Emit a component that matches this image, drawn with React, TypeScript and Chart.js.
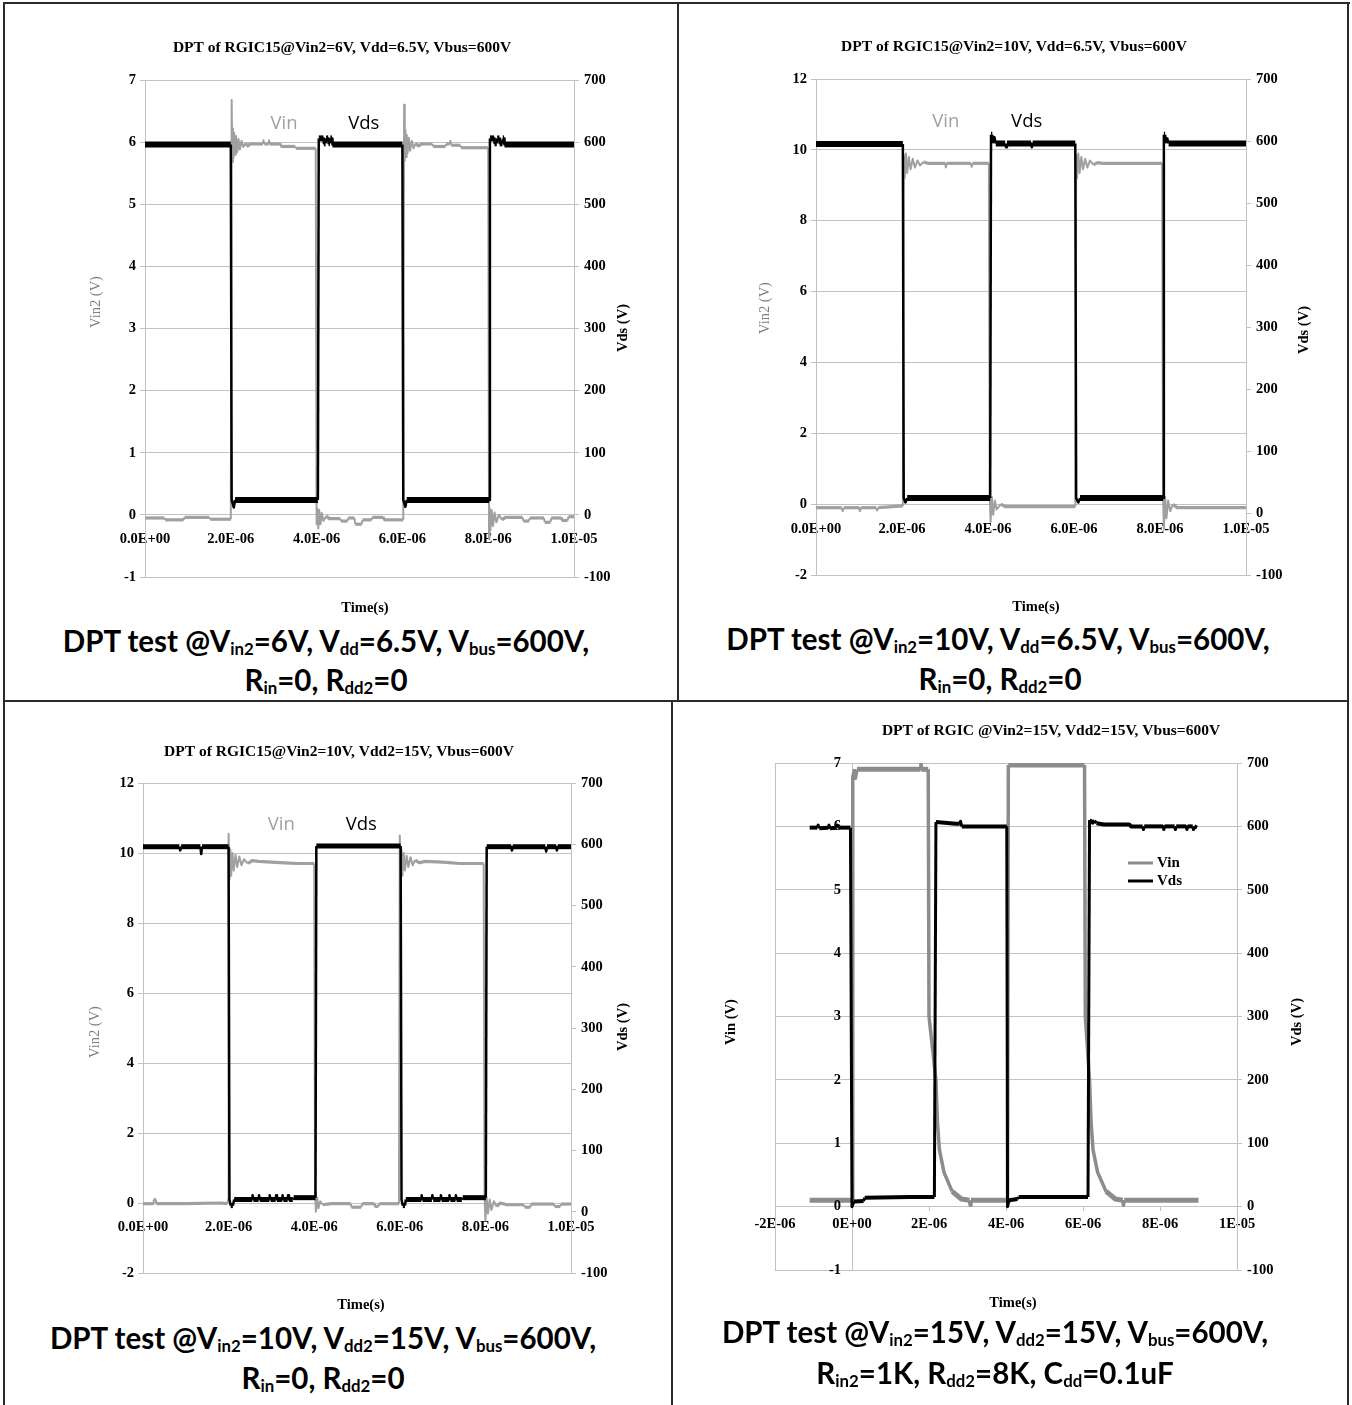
import React, { useEffect, useRef } from "react";
import { Chart, registerables } from "chart.js";

Chart.register(...registerables);

type Pt = [number, number];

// ---------------- data (time in microseconds, Vin in V, Vds in V) ----------------
const c1Vin: Pt[] = [
  [0, -0.05], [0.45, -0.05], [0.47, -0.08], [0.9, -0.08], [0.92, -0.04], [1.5, -0.04], [1.52, -0.07], [2.0, -0.07],
  [2.02, 6.68], [2.035, 5.68], [2.05, 6.22], [2.065, 5.75], [2.08, 6.15], [2.1, 5.8], [2.12, 6.1], [2.15, 5.84],
  [2.18, 6.05], [2.21, 5.88], [2.25, 6.02], [2.29, 5.92], [2.34, 5.98], [2.4, 5.94], [2.45, 5.97], [2.75, 5.97],
  [2.76, 6.03], [2.78, 5.97], [2.88, 5.97], [2.89, 6.03], [2.91, 5.97], [3.15, 5.97], [3.17, 5.93], [3.5, 5.93],
  [3.52, 5.9], [3.98, 5.9], [4.0, -0.15], [4.02, 0.1], [4.04, -0.22], [4.06, 0.08], [4.09, -0.15], [4.12, 0.03],
  [4.16, -0.1], [4.22, -0.02], [4.3, -0.06], [4.55, -0.06], [4.57, -0.1], [4.72, -0.1], [4.74, -0.05], [4.88, -0.05],
  [4.9, -0.15], [5.05, -0.15], [5.07, -0.08], [5.28, -0.08], [5.3, -0.04], [5.55, -0.04], [5.57, -0.08], [6.02, -0.08],
  [6.04, 6.6], [6.055, 5.7], [6.07, 6.2], [6.085, 5.76], [6.1, 6.12], [6.12, 5.82], [6.15, 6.07], [6.18, 5.86],
  [6.22, 6.02], [6.26, 5.9], [6.31, 5.98], [6.37, 5.94], [6.45, 5.97], [6.7, 5.97], [6.72, 5.93], [7.0, 5.93],
  [7.02, 5.97], [7.1, 5.97], [7.12, 6.02], [7.14, 5.95], [7.35, 5.95], [7.37, 5.91], [8.0, 5.91], [8.02, -0.38],
  [8.03, 0.12], [8.05, -0.25], [8.08, 0.08], [8.11, -0.18], [8.15, 0.04], [8.19, -0.12], [8.25, 0.0], [8.32, -0.08],
  [8.4, -0.04], [8.8, -0.04], [8.82, -0.1], [8.95, -0.1], [8.97, -0.05], [9.3, -0.05], [9.32, -0.12], [9.45, -0.12],
  [9.47, -0.05], [9.7, -0.05], [9.72, -0.09], [9.85, -0.09], [9.87, -0.03], [10, -0.03],
];
const c1Vds: Pt[] = [
  [0, 596], [2.0, 596], [2.02, 24], [2.07, 12], [2.1, 24], [4.03, 24], [4.05, 606], [4.16, 606], [4.17, 598],
  [4.21, 598], [4.22, 606], [4.27, 606], [4.28, 598], [4.31, 598], [4.32, 606], [4.36, 606], [4.37, 596], [6.0, 596],
  [6.02, 24], [6.07, 13], [6.1, 24], [8.02, 24], [8.04, 606], [8.14, 606], [8.15, 598], [8.2, 598], [8.21, 606],
  [8.26, 606], [8.27, 598], [8.33, 598], [8.34, 606], [8.37, 606], [8.38, 596], [10, 596],
];

const c2Vin: Pt[] = [
  [0, -0.1], [0.6, -0.1], [0.62, -0.2], [0.65, -0.1], [1.0, -0.1], [1.02, -0.2], [1.05, -0.1], [1.4, -0.1],
  [1.42, -0.18], [1.45, -0.1], [2.02, -0.05], [2.04, 9.85], [2.06, 9.2], [2.09, 9.9], [2.12, 9.35], [2.16, 9.8],
  [2.2, 9.45], [2.25, 9.75], [2.3, 9.5], [2.36, 9.7], [2.42, 9.56], [2.5, 9.66], [2.6, 9.62], [3.0, 9.62],
  [3.02, 9.5], [3.04, 9.62], [3.6, 9.62], [3.62, 9.52], [3.64, 9.62], [4.02, 9.62], [4.04, 0.3], [4.06, -0.5],
  [4.09, 0.2], [4.12, -0.3], [4.16, 0.1], [4.2, -0.15], [4.3, 0.0], [4.4, -0.07], [6.03, -0.07], [6.05, 9.85],
  [6.07, 9.2], [6.1, 9.9], [6.13, 9.35], [6.17, 9.8], [6.21, 9.45], [6.26, 9.75], [6.31, 9.5], [6.37, 9.7],
  [6.45, 9.58], [6.55, 9.64], [6.65, 9.62], [8.05, 9.62], [8.07, 0.3], [8.09, -0.7], [8.12, 0.2], [8.15, -0.4],
  [8.19, 0.1], [8.24, -0.2], [8.3, 0.0], [8.4, -0.1], [10, -0.1],
];
const c2Vds: Pt[] = [
  [0, 595], [2.02, 595], [2.04, 24], [2.08, 17], [2.12, 24], [4.05, 24], [4.07, 610], [4.1, 610], [4.12, 598],
  [4.15, 606], [4.18, 596], [4.4, 596], [4.42, 590], [4.44, 596], [5.0, 596], [5.02, 590], [5.04, 596], [6.03, 596],
  [6.05, 24], [6.1, 17], [6.14, 24], [8.07, 24], [8.09, 610], [8.12, 610], [8.14, 598], [8.17, 604], [8.2, 596],
  [10, 596],
];

const c3Vin: Pt[] = [
  [0, -0.02], [0.24, -0.02], [0.25, 0.1], [0.3, 0.1], [0.31, -0.02], [1.0, -0.02], [1.8, 0.0], [1.97, -0.02],
  [1.99, 0.1], [2.0, 10.55], [2.02, 9.25], [2.04, 10.1], [2.06, 9.35], [2.09, 10.0], [2.12, 9.5], [2.16, 9.95],
  [2.2, 9.6], [2.25, 9.9], [2.3, 9.65], [2.36, 9.82], [2.45, 9.7], [2.55, 9.78], [2.7, 9.76], [3.0, 9.74],
  [3.3, 9.72], [3.6, 9.7], [4.0, 9.7], [4.02, 0.3], [4.04, -0.25], [4.07, 0.15], [4.1, -0.15], [4.14, 0.05],
  [4.2, -0.05], [4.4, -0.02], [4.85, -0.02], [4.87, -0.12], [5.1, -0.12], [5.12, -0.02], [5.4, -0.02], [5.42, -0.1],
  [5.5, -0.1], [5.52, -0.02], [5.98, -0.02], [6.0, 10.5], [6.02, 9.2], [6.04, 10.1], [6.06, 9.35], [6.09, 10.0],
  [6.12, 9.5], [6.16, 9.92], [6.2, 9.6], [6.25, 9.88], [6.3, 9.65], [6.36, 9.8], [6.45, 9.72], [6.6, 9.76],
  [7.0, 9.74], [7.4, 9.7], [7.96, 9.7], [7.98, 0.2], [8.0, -0.5], [8.03, 0.15], [8.06, -0.3], [8.1, 0.1],
  [8.14, -0.2], [8.2, 0.05], [8.26, -0.1], [8.35, 0.0], [8.5, -0.05], [8.9, -0.05], [8.92, -0.12], [9.05, -0.12],
  [9.07, -0.03], [9.6, -0.03], [9.62, -0.1], [9.75, -0.1], [9.77, -0.03], [10, -0.03],
];
const c3Vds: Pt[] = [
  [0, 596], [0.85, 596], [0.87, 590], [0.89, 596], [1.34, 596], [1.36, 584], [1.38, 596], [2.0, 596], [2.02, 20],
  [2.05, 10], [2.1, 10], [2.13, 20], [2.55, 20], [2.56, 27], [2.58, 20], [2.7, 20], [2.71, 27], [2.73, 20],
  [2.95, 20], [2.96, 27], [2.98, 20], [3.1, 20], [3.11, 27], [3.13, 20], [3.25, 20], [3.26, 27], [3.28, 20],
  [3.38, 20], [3.39, 27], [3.41, 20], [3.5, 20], [3.52, 23], [4.03, 23], [4.05, 597], [6.02, 597], [6.04, 20],
  [6.07, 10], [6.12, 10], [6.14, 20], [6.5, 20], [6.51, 27], [6.53, 20], [6.75, 20], [6.76, 27], [6.78, 20],
  [6.95, 20], [6.96, 27], [6.98, 20], [7.15, 20], [7.16, 27], [7.18, 20], [7.3, 20], [7.31, 27], [7.33, 20],
  [7.45, 20], [7.47, 23], [8.01, 23], [8.03, 596], [8.6, 596], [8.62, 590], [8.64, 596], [9.4, 596], [9.42, 588],
  [9.44, 596], [9.65, 596], [9.67, 590], [9.69, 596], [10, 596],
];

const c4Vin: Pt[] = [
  [-1.1, 0.1], [0.0, 0.1], [0.02, 6.78], [0.06, 6.88], [0.09, 6.76], [0.13, 6.9], [1.78, 6.9], [1.79, 7.0],
  [1.81, 6.9], [1.98, 6.9], [2.0, 3.0], [2.18, 2.0], [2.22, 1.33], [2.27, 0.9], [2.39, 0.54], [2.6, 0.24],
  [2.84, 0.12], [3.05, 0.1], [3.07, 0.02], [3.09, 0.1], [4.04, 0.1], [4.06, 6.97], [6.04, 6.97], [6.06, 3.0],
  [6.17, 2.0], [6.21, 1.33], [6.26, 0.9], [6.38, 0.54], [6.6, 0.24], [6.84, 0.12], [7.03, 0.1], [7.05, 0.02],
  [7.07, 0.1], [9.0, 0.1],
];
const c4Vds: Pt[] = [
  [-1.1, 598], [-0.9, 598], [-0.88, 602], [-0.85, 597], [-0.62, 598], [-0.6, 602], [-0.57, 597], [-0.4, 598],
  [-0.38, 602], [-0.35, 598], [-0.04, 598], [0.0, 0], [0.05, 8], [0.3, 9], [0.33, 14], [1.5, 15], [2.14, 15],
  [2.18, 607], [2.7, 604], [2.8, 604], [2.82, 608], [2.85, 600], [4.02, 600], [4.04, 0], [4.08, 10], [4.3, 12],
  [4.33, 15], [6.13, 15], [6.17, 610], [6.25, 606], [6.3, 609], [6.35, 605], [6.55, 603], [7.2, 603], [7.25, 600],
  [7.55, 600], [7.57, 595], [7.59, 600], [8.08, 600], [8.1, 595], [8.12, 600], [8.38, 600], [8.4, 595], [8.42, 600],
  [8.68, 600], [8.7, 595], [8.72, 600], [8.85, 600], [8.87, 595], [8.89, 600], [8.96, 598],
];

// ---------------- ticks ----------------
const xTicksA = [0, 2, 4, 6, 8, 10];
const xLabelsA = ["0.0E+00", "2.0E-06", "4.0E-06", "6.0E-06", "8.0E-06", "1.0E-05"];
const xTicksB = [-2, 0, 2, 4, 6, 8, 10];
const xLabelsB = ["-2E-06", "0E+00", "2E-06", "4E-06", "6E-06", "8E-06", "1E-05"];
const leftTicks7 = [-1, 0, 1, 2, 3, 4, 5, 6, 7];
const leftTicks12 = [-2, 0, 2, 4, 6, 8, 10, 12];
const rightTicks = [-100, 0, 100, 200, 300, 400, 500, 600, 700];

const SERIF = '"Liberation Serif", "Times New Roman", serif';
const GRID = "#c2c2c2";
const TICK_PX = 14.5;

interface Spec {
  left: number; top: number; width: number; height: number;
  pad: { left: number; right: number; top: number; bottom: number };
  xMin: number; xMax: number; xTicks: number[]; xLabels: string[];
  yMin: number; yMax: number; yTicks: number[];
  vin: Pt[]; vds: Pt[];
  vinColor: string; vinW: [number, number]; vdsW: [number, number];
  title: string; titleAt: [number, number];
  leftTitle: string; leftAt: [number, number]; leftColor: string; leftBold: boolean;
  rightTitle: string; rightAt: [number, number];
  xTitle: string; xTitleAt: [number, number];
  notes?: { text: string; t: number; v: number; color: string }[];
  legend?: { x1: number; x2: number; tx: number; y1: number; y2: number };
  cross?: boolean;
}

const specs: Spec[] = [
  {
    left: 6, top: 5, width: 670, height: 612,
    pad: { left: 99, right: 62, top: 75, bottom: 40 },
    xMin: 0, xMax: 10, xTicks: xTicksA, xLabels: xLabelsA,
    yMin: -1, yMax: 7, yTicks: leftTicks7,
    vin: c1Vin, vds: c1Vds, vinColor: "#a0a0a0", vinW: [3.2, 2], vdsW: [6, 2.5],
    title: "DPT of RGIC15@Vin2=6V, Vdd=6.5V, Vbus=600V", titleAt: [342, 48],
    leftTitle: "Vin2 (V)", leftAt: [96, 302], leftColor: "#7f7f7f", leftBold: false,
    rightTitle: "Vds (V)", rightAt: [623, 328],
    xTitle: "Time(s)", xTitleAt: [365, 608],
    notes: [
      { text: "Vin", t: 3.24, v: 6.3, color: "#a0a0a0" },
      { text: "Vds", t: 5.1, v: 6.3, color: "#000" },
    ],
  },
  {
    left: 680, top: 5, width: 666, height: 612,
    pad: { left: 96, right: 60, top: 74, bottom: 42 },
    xMin: 0, xMax: 10, xTicks: xTicksA, xLabels: xLabelsA,
    yMin: -2, yMax: 12, yTicks: leftTicks12,
    vin: c2Vin, vds: c2Vds, vinColor: "#a0a0a0", vinW: [3.2, 2], vdsW: [6, 2.5],
    title: "DPT of RGIC15@Vin2=10V, Vdd=6.5V, Vbus=600V", titleAt: [1014, 47],
    leftTitle: "Vin2 (V)", leftAt: [765, 308], leftColor: "#7f7f7f", leftBold: false,
    rightTitle: "Vds (V)", rightAt: [1304, 330],
    xTitle: "Time(s)", xTitleAt: [1036, 607],
    notes: [
      { text: "Vin", t: 3.02, v: 10.8, color: "#a0a0a0" },
      { text: "Vds", t: 4.9, v: 10.8, color: "#000" },
    ],
  },
  {
    left: 6, top: 704, width: 664, height: 612,
    pad: { left: 97, right: 59, top: 79, bottom: 43 },
    xMin: 0, xMax: 10, xTicks: xTicksA, xLabels: xLabelsA,
    yMin: -2, yMax: 12, yTicks: leftTicks12,
    vin: c3Vin, vds: c3Vds, vinColor: "#a0a0a0", vinW: [3.2, 2], vdsW: [5, 2.5],
    title: "DPT of RGIC15@Vin2=10V, Vdd2=15V, Vbus=600V", titleAt: [339, 752],
    leftTitle: "Vin2 (V)", leftAt: [95, 1032], leftColor: "#7f7f7f", leftBold: false,
    rightTitle: "Vds (V)", rightAt: [623, 1027],
    xTitle: "Time(s)", xTitleAt: [361, 1305],
    notes: [
      { text: "Vin", t: 3.23, v: 10.8, color: "#a0a0a0" },
      { text: "Vds", t: 5.1, v: 10.8, color: "#000" },
    ],
  },
  {
    left: 676, top: 704, width: 670, height: 612,
    pad: { left: 99, right: 69, top: 59, bottom: 46 },
    xMin: -2, xMax: 10, xTicks: xTicksB, xLabels: xLabelsB,
    yMin: -1, yMax: 7, yTicks: leftTicks7,
    vin: c4Vin, vds: c4Vds, vinColor: "#8c8c8c", vinW: [5, 3.5], vdsW: [4, 3],
    title: "DPT of RGIC @Vin2=15V, Vdd2=15V, Vbus=600V", titleAt: [1051, 731],
    leftTitle: "Vin (V)", leftAt: [731, 1022], leftColor: "#000", leftBold: true,
    rightTitle: "Vds (V)", rightAt: [1297, 1022],
    xTitle: "Time(s)", xTitleAt: [1013, 1303],
    legend: { x1: 1128, x2: 1153, tx: 1157, y1: 863, y2: 881 },
    cross: true,
  },
];

function segWidth(thick: number, thin: number) {
  return (ctx: any) => {
    const dx = Math.abs(ctx.p1.x - ctx.p0.x);
    const dy = Math.abs(ctx.p1.y - ctx.p0.y);
    return dy > dx ? thin : thick;
  };
}

const tickFont = { family: SERIF, weight: "bold" as const, size: TICK_PX };

function DptChart({ spec }: { spec: Spec }) {
  const ref = useRef<HTMLCanvasElement>(null);
  useEffect(() => {
    const canvas = ref.current;
    if (!canvas) return;
    const ox = spec.left;
    const oy = spec.top;
    const rot = (ctx: CanvasRenderingContext2D, text: string, x: number, y: number) => {
      ctx.save();
      ctx.translate(x - ox, y - oy);
      ctx.rotate(-Math.PI / 2);
      ctx.fillText(text, 0, 0);
      ctx.restore();
    };
    const textPlugin = {
      id: "dptText",
      beforeDatasetsDraw(chart: any) {
        const { ctx, chartArea: a } = chart;
        ctx.save();
        ctx.strokeStyle = GRID;
        ctx.lineWidth = 1;
        ctx.strokeRect(Math.round(a.left) + 0.5, Math.round(a.top) + 0.5, Math.round(a.right - a.left), Math.round(a.bottom - a.top));
        ctx.restore();
      },
      afterDraw(chart: any) {
        const ctx: CanvasRenderingContext2D = chart.ctx;
        const xs = chart.scales.x;
        const ys = chart.scales.y;
        ctx.save();
        ctx.textAlign = "center";
        ctx.textBaseline = "middle";
        ctx.fillStyle = "#000";
        ctx.font = `bold 15.5px ${SERIF}`;
        ctx.fillText(spec.title, spec.titleAt[0] - ox, spec.titleAt[1] - oy);
        ctx.font = `bold 14.5px ${SERIF}`;
        ctx.fillText(spec.xTitle, spec.xTitleAt[0] - ox, spec.xTitleAt[1] - oy);
        rot(ctx, spec.rightTitle, spec.rightAt[0], spec.rightAt[1]);
        ctx.fillStyle = spec.leftColor;
        ctx.font = `${spec.leftBold ? "bold " : ""}14.5px ${SERIF}`;
        rot(ctx, spec.leftTitle, spec.leftAt[0], spec.leftAt[1]);
        if (spec.notes) {
          ctx.font = `18.5px "Open Sans", sans-serif`;
          for (const n of spec.notes) {
            ctx.fillStyle = n.color;
            ctx.fillText(n.text, xs.getPixelForValue(n.t), ys.getPixelForValue(n.v));
          }
        }
        if (spec.cross) {
          const x0 = xs.getPixelForValue(0);
          ctx.fillStyle = "#000";
          ctx.font = `bold ${TICK_PX}px ${SERIF}`;
          ctx.textAlign = "right";
          for (const v of spec.yTicks) {
            ctx.fillText(String(v), x0 - 11, ys.getPixelForValue(v));
          }
        }
        if (spec.legend) {
          const L = spec.legend;
          ctx.lineWidth = 3;
          ctx.strokeStyle = spec.vinColor;
          ctx.beginPath();
          ctx.moveTo(L.x1 - ox, L.y1 - oy);
          ctx.lineTo(L.x2 - ox, L.y1 - oy);
          ctx.stroke();
          ctx.strokeStyle = "#000";
          ctx.beginPath();
          ctx.moveTo(L.x1 - ox, L.y2 - oy);
          ctx.lineTo(L.x2 - ox, L.y2 - oy);
          ctx.stroke();
          ctx.fillStyle = "#000";
          ctx.textAlign = "left";
          ctx.font = `bold 15px ${SERIF}`;
          ctx.fillText("Vin", L.tx - ox, L.y1 - oy);
          ctx.fillText("Vds", L.tx - ox, L.y2 - oy);
        }
        ctx.restore();
      },
    };

    const xGrid = spec.cross
      ? {
          display: true,
          drawOnChartArea: true,
          color: (c: any) => (c.tick && c.tick.value === 0 ? GRID : "rgba(0,0,0,0)"),
          tickColor: GRID,
          tickLength: 4,
        }
      : { display: false };

    const chart = new Chart(canvas, {
      type: "line",
      data: {
        datasets: [
          {
            label: "Vds",
            data: spec.vds.map(([x, y]) => ({ x, y })),
            yAxisID: "y2",
            borderColor: "#000",
            backgroundColor: "#000",
            borderWidth: spec.vdsW[0],
            pointRadius: 0,
            tension: 0,
            fill: false,
            order: 0,
            borderJoinStyle: "round",
            segment: { borderWidth: segWidth(spec.vdsW[0], spec.vdsW[1]) },
          },
          {
            label: "Vin",
            data: spec.vin.map(([x, y]) => ({ x, y })),
            yAxisID: "y",
            borderColor: spec.vinColor,
            backgroundColor: spec.vinColor,
            borderWidth: spec.vinW[0],
            pointRadius: 0,
            tension: 0,
            fill: false,
            order: 1,
            borderJoinStyle: "round",
            segment: { borderWidth: segWidth(spec.vinW[0], spec.vinW[1]) },
          },
        ],
      } as any,
      options: {
        responsive: false,
        animation: false,
        devicePixelRatio: 1,
        events: [],
        layout: { padding: spec.pad },
        plugins: {
          legend: { display: false },
          tooltip: { enabled: false },
          title: { display: false },
        },
        scales: {
          x: {
            type: "linear",
            min: spec.xMin,
            max: spec.xMax,
            position: { y: 0 },
            afterBuildTicks: (s: any) => {
              s.ticks = spec.xTicks.map((v) => ({ value: v }));
            },
            ticks: {
              autoSkip: false,
              maxRotation: 0,
              minRotation: 0,
              padding: spec.cross ? 5 : 8,
              color: "#000",
              font: tickFont,
              callback: (_v: any, i: number) => spec.xLabels[i],
            },
            grid: xGrid,
            border: { display: false },
          },
          y: {
            type: "linear",
            position: "left",
            min: spec.yMin,
            max: spec.yMax,
            afterBuildTicks: (s: any) => {
              s.ticks = spec.yTicks.map((v) => ({ value: v }));
            },
            afterFit: (s: any) => {
              s.width = spec.cross ? 0 : 40;
            },
            ticks: {
              display: !spec.cross,
              autoSkip: false,
              padding: 4,
              color: "#000",
              font: tickFont,
              callback: (v: any) => String(v),
            },
            grid: { color: GRID, tickLength: 5, drawTicks: !spec.cross },
            border: { display: !spec.cross, color: GRID },
          },
          y2: {
            type: "linear",
            position: "right",
            min: -100,
            max: 700,
            afterBuildTicks: (s: any) => {
              s.ticks = rightTicks.map((v) => ({ value: v }));
            },
            afterFit: (s: any) => {
              s.width = 40;
            },
            ticks: {
              autoSkip: false,
              padding: 5,
              color: "#000",
              font: tickFont,
              callback: (v: any) => String(v),
            },
            grid: { drawOnChartArea: false, color: GRID, tickLength: 5 },
            border: { color: GRID },
          },
        },
      } as any,
      plugins: [textPlugin],
    });
    return () => chart.destroy();
  }, [spec]);
  return (
    <canvas
      ref={ref}
      width={spec.width}
      height={spec.height}
      style={{ position: "absolute", left: spec.left, top: spec.top, width: spec.width, height: spec.height }}
    />
  );
}

const subStyle: React.CSSProperties = { fontSize: "0.57em", verticalAlign: "-3px", lineHeight: 0 };
const S = ({ t }: { t: string }) => <span style={subStyle}>{t}</span>;

function Caption({ cx, cy, children }: { cx: number; cy: number; children: React.ReactNode }) {
  return (
    <div
      style={{
        position: "absolute",
        left: cx - 400,
        top: cy - 22,
        width: 800,
        height: 40,
        lineHeight: "40px",
        textAlign: "center",
        font: 'bold 29.5px Lato, "Open Sans", sans-serif',
        color: "#000",
        whiteSpace: "nowrap",
      }}
    >
      {children}
    </div>
  );
}

const lineStyle = (l: number, t: number, w: number, h: number): React.CSSProperties => ({
  position: "absolute", left: l, top: t, width: w, height: h, background: "#2a2a2a",
});

export default function App() {
  return (
    <div style={{ position: "absolute", left: 0, top: 0, width: 1352, height: 1405, background: "#fff", overflow: "hidden" }}>
      {specs.map((s, i) => (
        <DptChart key={i} spec={s} />
      ))}
      <Caption cx={326} cy={645}>DPT test @V<S t="in2" />=6V, V<S t="dd" />=6.5V, V<S t="bus" />=600V,</Caption>
      <Caption cx={326} cy={684}>R<S t="in" />=0, R<S t="dd2" />=0</Caption>
      <Caption cx={998} cy={643}>DPT test @V<S t="in2" />=10V, V<S t="dd" />=6.5V, V<S t="bus" />=600V,</Caption>
      <Caption cx={1000} cy={683}>R<S t="in" />=0, R<S t="dd2" />=0</Caption>
      <Caption cx={323} cy={1342}>DPT test @V<S t="in2" />=10V, V<S t="dd2" />=15V, V<S t="bus" />=600V,</Caption>
      <Caption cx={323} cy={1382}>R<S t="in" />=0, R<S t="dd2" />=0</Caption>
      <Caption cx={995} cy={1336}>DPT test @V<S t="in2" />=15V, V<S t="dd2" />=15V, V<S t="bus" />=600V,</Caption>
      <Caption cx={995} cy={1377}>R<S t="in2" />=1K, R<S t="dd2" />=8K, C<S t="dd" />=0.1uF</Caption>
      <div style={lineStyle(3, 2, 1347, 2)} />
      <div style={lineStyle(3, 2, 2, 1403)} />
      <div style={lineStyle(1347, 2, 2, 1403)} />
      <div style={lineStyle(3, 700, 1346, 2)} />
      <div style={lineStyle(677, 2, 2, 699)} />
      <div style={lineStyle(671, 701, 2, 704)} />
    </div>
  );
}
